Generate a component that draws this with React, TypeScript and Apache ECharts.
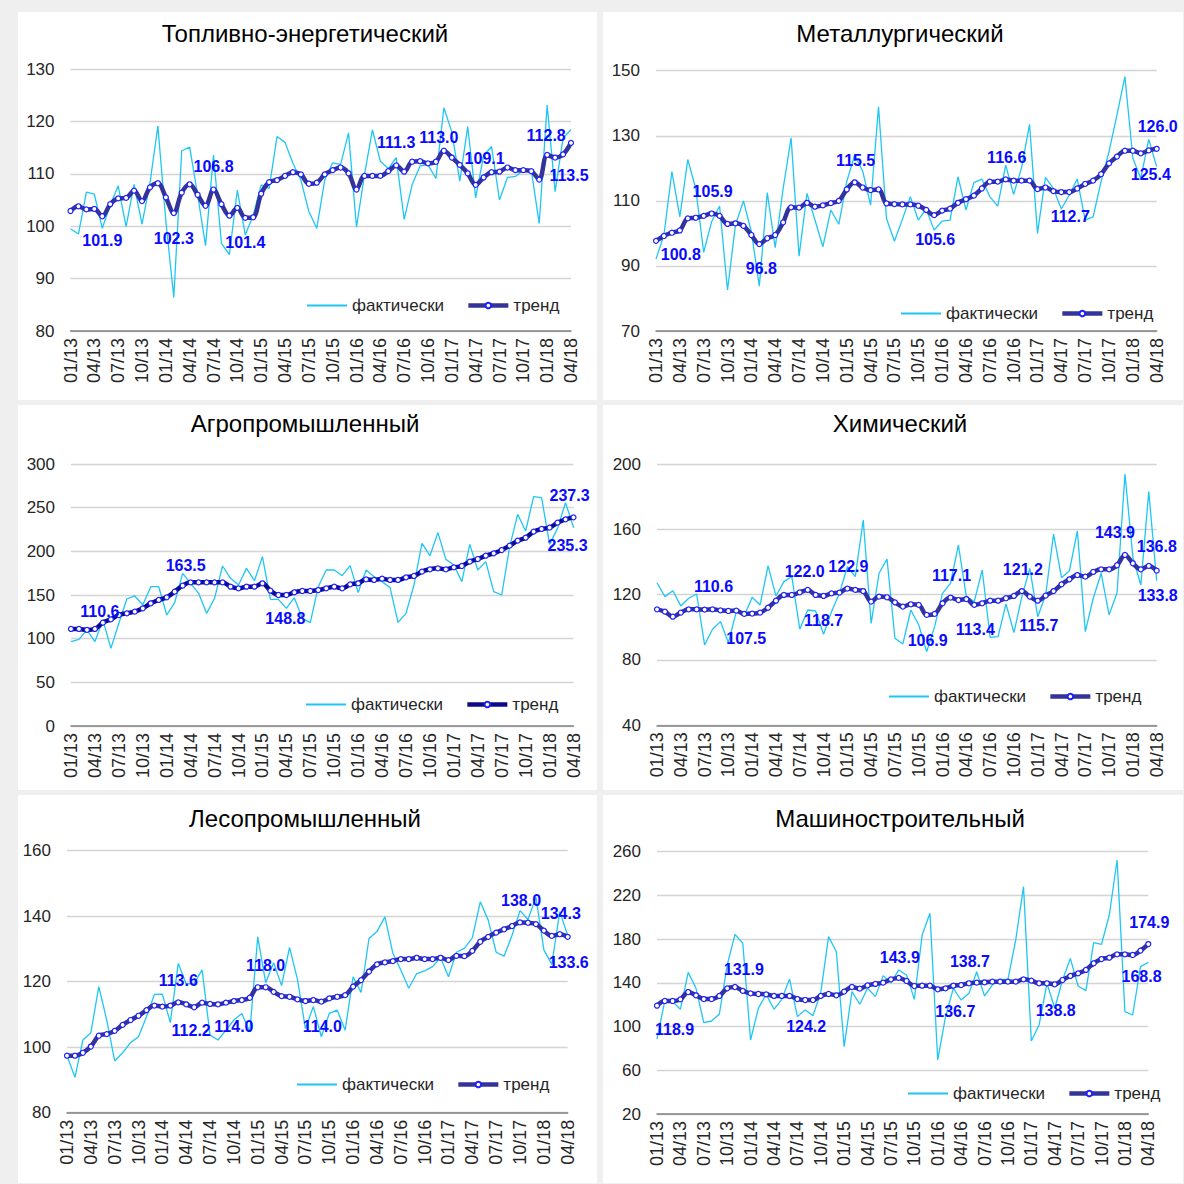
import React, { useEffect, useRef } from 'react';
import * as echarts from 'echarts';

const FONT = '"Liberation Sans", Arial, Helvetica, sans-serif';
const FACT_COLOR = '#1fc6f4';
const LABEL_BLUE = '#0a0aff';

// categories: 01/13 .. 04/18
const monthLabels: string[] = [];
for (let y = 13; y <= 18; y++) {
  for (let m = 1; m <= 12; m++) {
    if (y === 18 && m > 4) break;
    monthLabels.push(`${String(m).padStart(2, '0')}/${y}`);
  }
}

const titles = [
  'Топливно-энергетический',
  'Металлургический',
  'Агропромышленный',
  'Химический',
  'Лесопромышленный',
  'Машиностроительный',
];
const seriesNames = ['фактически', 'тренд'];

// ---------- Топливно-энергетический ----------
const fact1 = [
  99.5, 98.5, 106.5, 106.1, 99.6, 104.0, 107.7, 99.9, 108.0, 100.4, 108.2, 119.1, 101.0, 86.4, 114.4, 115.1,
  106.0, 96.3, 113.6, 96.7, 94.6, 106.9, 98.3, 102.1, 107.9, 107.2, 117.1, 116.0, 112.0, 108.8, 102.8, 99.6,
  108.8, 112.1, 111.8, 117.8, 99.8, 109.8, 118.4, 112.4, 111.0, 113.1, 101.3, 107.9, 111.5, 111.7, 109.1, 122.6,
  118.0, 108.6, 119.0, 105.4, 113.5, 115.2, 105.0, 109.3, 109.5, 110.7, 110.7, 100.5, 123.1, 106.6, 116.8, 118.4,
];
const trend1 = [
  102.9, 103.8, 103.2, 103.3, 101.9, 104.2, 105.3, 105.4, 106.8, 104.8, 107.4, 108.2, 105.5, 102.5, 106.4, 108.0,
  106.0, 103.9, 107.0, 104.2, 102.0, 103.5, 101.6, 101.7, 106.2, 108.4, 108.8, 109.6, 110.3, 109.9, 108.1, 108.3,
  109.9, 110.7, 111.2, 110.1, 107.0, 109.6, 109.6, 109.6, 110.5, 111.6, 110.4, 112.3, 112.4, 112.0, 112.3, 114.4,
  113.1, 111.7, 110.1, 107.9, 109.3, 110.3, 110.4, 111.2, 110.7, 110.7, 110.5, 108.9, 113.6, 113.1, 113.7, 115.9,
];
// [index, text, position, dx, dy]
const trendLabels1 = [
  [4, '101.9', 'bottom', 0, 2], [13, '102.3', 'bottom', 0, 3], [18, '106.8', 'top', 0, -1],
  [22, '101.4', 'bottom', 0, 3], [41, '111.3', 'top', 0, -1], [47, '113.0', 'top', -5, 9],
  [52, '109.1', 'top', 1, 3], [60, '112.8', 'top', -1, 3], [63, '113.5', 'bottom', -2, 11],
];

// ---------- Металлургический ----------
const fact2 = [
  92.1, 99.5, 119.0, 105.1, 122.7, 113.8, 94.2, 103.6, 108.4, 82.6, 102.6, 110.0, 100.5, 83.8, 112.5, 95.6,
  113.8, 129.4, 93.0, 112.3, 104.1, 95.9, 107.2, 102.8, 115.9, 124.1, 119.2, 108.7, 138.9, 104.6, 97.6, 104.3,
  111.3, 104.1, 107.5, 101.0, 103.8, 104.1, 117.4, 107.2, 115.6, 116.7, 111.3, 108.4, 121.0, 112.0, 120.2, 133.5,
  100.0, 117.2, 113.8, 107.5, 111.8, 116.7, 104.1, 105.1, 115.9, 125.1, 136.4, 148.2, 123.1, 116.9, 128.9, 120.5,
];
const trend2 = [
  97.7, 99.2, 100.2, 100.9, 104.6, 104.8, 105.4, 106.1, 105.4, 102.9, 103.1, 102.3, 99.5, 96.7, 98.5, 99.5,
  103.4, 108.0, 107.9, 109.4, 108.2, 108.6, 109.3, 110.0, 113.5, 115.7, 114.1, 113.3, 113.5, 109.2, 109.0, 108.9,
  108.9, 108.5, 107.2, 105.6, 107.0, 107.6, 109.4, 110.5, 111.6, 113.8, 115.9, 115.9, 116.6, 116.2, 116.2, 116.2,
  113.6, 114.1, 113.0, 112.7, 112.7, 113.8, 115.2, 116.2, 118.2, 121.5, 123.6, 125.4, 125.4, 124.6, 125.5, 126.0,
];
const trendLabels2 = [
  [3, '100.8', 'bottom', 1, 2], [7, '105.9', 'top', 1, 0], [13, '96.8', 'bottom', 2, 2],
  [25, '115.5', 'top', 1, 0], [35, '105.6', 'bottom', 1, 2], [44, '116.6', 'top', 1, 0],
  [52, '112.7', 'bottom', 1, 2], [62, '125.4', 'bottom', 2, 2], [63, '126.0', 'top', 1, 0],
];

// ---------- Агропромышленный ----------
const fact3 = [
  96.6, 99.2, 110.0, 96.6, 121.4, 88.9, 117.6, 145.4, 148.9, 138.5, 159.5, 159.5, 127.1, 141.2, 174.8, 163.4,
  151.9, 129.0, 146.2, 183.2, 169.1, 161.5, 180.5, 166.4, 193.9, 145.0, 145.0, 134.7, 146.9, 123.3, 118.3, 159.5,
  178.6, 178.6, 172.1, 183.6, 152.7, 178.6, 171.0, 165.3, 158.4, 118.7, 129.0, 161.5, 209.2, 195.0, 221.4, 190.8,
  184.4, 165.3, 208.0, 178.6, 188.2, 153.8, 150.0, 205.3, 242.4, 223.3, 262.6, 261.5, 208.0, 226.3, 255.7, 227.5,
];
const trend3 = [
  111.1, 111.1, 110.0, 111.1, 118.3, 122.1, 127.1, 129.0, 130.9, 134.7, 140.5, 144.3, 147.3, 153.8, 160.7, 164.5,
  164.5, 164.5, 164.5, 164.5, 159.5, 157.6, 159.5, 159.5, 163.4, 155.0, 150.0, 150.0, 153.1, 154.6, 154.6, 155.7,
  157.6, 159.5, 157.6, 162.2, 163.4, 167.9, 167.2, 168.7, 167.2, 167.2, 170.2, 171.8, 176.7, 179.4, 180.5, 179.4,
  181.7, 183.2, 188.2, 191.2, 195.0, 197.7, 201.5, 206.5, 212.2, 215.6, 222.5, 225.6, 227.1, 232.8, 236.6, 238.9,
];
const trendLabels3 = [
  [3, '110.6', 'top', 5, 4.5], [15, '163.5', 'top', -5, 5], [27, '148.8', 'bottom', -1, 1.5],
  [63, '237.3', 'top', -4, 0],
];
const factLabels3 = [[63, '235.3', 'bottom', -6, -1.5]];

// ---------- Химический ----------
const fact4 = [
  127.3, 118.8, 122.4, 113.1, 117.8, 120.4, 89.2, 98.8, 103.5, 90.6, 109.6, 107.1, 118.4, 113.7, 137.6, 119.2,
  128.0, 131.0, 98.8, 110.6, 110.0, 95.7, 109.6, 120.8, 137.1, 131.0, 165.7, 102.4, 133.1, 141.8, 93.3, 89.8,
  110.6, 101.4, 85.1, 100.4, 120.8, 126.9, 150.4, 118.8, 115.7, 135.1, 93.9, 94.3, 114.3, 96.7, 118.8, 136.1,
  106.5, 119.8, 157.1, 130.4, 134.7, 159.0, 97.3, 117.8, 133.1, 107.6, 121.2, 193.9, 142.7, 125.9, 183.1, 128.6,
];
const trend4 = [
  111.0, 109.6, 106.5, 109.0, 111.0, 111.0, 110.8, 111.0, 110.4, 110.0, 110.2, 108.2, 108.4, 109.0, 112.0, 116.3,
  119.8, 119.8, 121.4, 122.9, 119.8, 119.2, 120.8, 121.2, 123.7, 122.9, 122.2, 115.7, 118.8, 118.4, 115.3, 112.7,
  114.1, 113.7, 107.6, 108.2, 114.7, 118.2, 116.7, 117.3, 113.7, 114.7, 116.3, 116.3, 117.8, 119.2, 122.2, 118.8,
  116.3, 119.4, 122.2, 126.3, 129.4, 132.0, 131.0, 133.9, 135.5, 135.5, 138.0, 144.3, 139.2, 135.5, 137.6, 134.7,
];
const trendLabels4 = [
  [7, '110.6', 'top', 1, -1], [11, '107.5', 'bottom', 2, 2.5], [19, '122.0', 'top', -3, 3.5],
  [21, '118.7', 'bottom', 0, 2], [24, '122.9', 'top', 1, 0], [34, '106.9', 'bottom', 1, 3],
  [37, '117.1', 'top', 1, 0], [40, '113.4', 'bottom', 1, 2.5], [46, '121.2', 'top', 1, 1],
  [48, '115.7', 'bottom', 1, 2.5], [59, '143.9', 'top', -10, 0], [62, '136.8', 'top', 8, 2.5],
  [63, '133.8', 'bottom', 1, 2.5],
];

// ---------- Лесопромышленный ----------
const fact5 = [
  97.4, 90.8, 102.2, 104.4, 118.5, 108.3, 95.8, 98.3, 101.4, 103.2, 109.3, 116.1, 116.2, 107.5, 125.6, 119.3,
  119.5, 123.6, 103.7, 102.2, 105.2, 108.3, 110.3, 104.7, 133.7, 119.7, 125.8, 118.8, 130.5, 120.7, 105.7, 112.4,
  103.2, 110.3, 111.3, 105.2, 121.5, 116.7, 133.2, 135.3, 139.8, 128.7, 123.6, 118.0, 122.5, 123.3, 124.6, 127.4,
  121.5, 129.0, 130.2, 133.4, 144.4, 138.8, 129.0, 127.8, 134.2, 141.7, 139.0, 145.8, 129.7, 125.3, 141.4, 134.2,
];
const trend5 = [
  97.4, 97.4, 98.3, 100.2, 103.5, 104.0, 105.0, 106.8, 108.3, 109.6, 111.3, 112.7, 112.4, 112.7, 113.7, 113.1,
  112.2, 113.6, 113.2, 113.1, 113.6, 114.1, 114.4, 115.1, 118.3, 118.3, 116.9, 115.6, 115.4, 114.6, 114.1, 114.4,
  113.9, 114.9, 115.4, 115.9, 118.5, 120.5, 123.1, 125.3, 125.9, 126.3, 126.9, 126.9, 127.3, 126.9, 126.9, 127.3,
  126.6, 127.9, 127.8, 129.4, 132.2, 133.7, 135.0, 136.0, 137.0, 138.1, 138.0, 137.6, 135.6, 134.0, 134.5, 133.7,
];
const trendLabels5 = [
  [14, '113.6', 'top', 0, 0], [16, '112.2', 'bottom', -3, 1.5], [21, '114.0', 'bottom', 0, 3],
  [25, '118.0', 'top', 0, 0], [32, '114.0', 'bottom', 1, 2.5], [57, '138.0', 'top', 1, 0],
  [62, '134.3', 'top', 1, 1], [63, '133.6', 'bottom', 1, 4],
];

// ---------- Машиностроительный ----------
const fact6 = [
  88.7, 123.4, 122.8, 115.8, 149.6, 135.0, 103.6, 105.1, 111.5, 156.3, 184.4, 176.2, 87.7, 116.7, 129.5, 115.8,
  124.9, 143.5, 109.1, 115.2, 110.0, 131.0, 182.3, 168.5, 81.6, 132.0, 120.4, 135.0, 127.4, 146.6, 140.0, 151.8,
  147.2, 124.9, 183.8, 203.6, 69.5, 109.1, 135.0, 124.3, 130.4, 150.2, 128.0, 138.0, 143.2, 143.2, 179.2, 228.0,
  86.8, 101.5, 139.6, 116.7, 142.6, 162.4, 137.1, 132.9, 176.8, 175.2, 202.1, 252.4, 113.7, 110.6, 154.8, 158.8,
];
const trend6 = [
  119.1, 123.4, 123.4, 124.9, 131.6, 128.6, 125.2, 125.2, 128.0, 135.0, 136.2, 132.6, 130.4, 129.8, 129.5, 128.0,
  128.0, 128.0, 125.2, 124.3, 124.3, 128.0, 129.8, 128.6, 132.0, 136.2, 134.7, 137.7, 139.0, 140.2, 143.2, 144.5,
  141.7, 137.1, 137.4, 137.4, 134.1, 135.0, 137.4, 138.0, 139.6, 140.2, 140.5, 141.1, 141.1, 141.1, 141.1, 143.2,
  142.0, 139.6, 139.6, 138.7, 142.6, 146.3, 148.7, 151.8, 157.9, 161.8, 163.0, 166.1, 166.1, 165.5, 169.5, 175.5,
];
const trendLabels6 = [
  [2, '118.9', 'bottom', 2, 6], [11, '131.9', 'top', 1, 1], [19, '124.2', 'bottom', 1, 4],
  [31, '143.9', 'top', 1, 1.5], [38, '136.7', 'bottom', 2, 4], [40, '138.7', 'top', 1, 0],
  [51, '138.8', 'bottom', 1, 4], [62, '168.8', 'bottom', 1, 4], [63, '174.9', 'top', 1, 1],
];

type Lbl = (string | number)[];
interface Panel {
  fact: number[]; trend: number[]; trendLabels: Lbl[]; factLabels: Lbl[];
  min: number; max: number; interval: number;
  grid: { left: number; top: number; width: number; height: number };
  box: number[]; tx: number; ty: number; lx: number; ly: number; trendColor: string;
}

const panels: Panel[] = [
  { fact: fact1, trend: trend1, trendLabels: trendLabels1, factLabels: [], min: 80, max: 130, interval: 10,
    grid: { left: 70.5, top: 69, width: 500.5, height: 262 }, box: [18, 12, 579, 388], tx: 305, ty: 33, lx: 306, ly: 306, trendColor: '#33339a' },
  { fact: fact2, trend: trend2, trendLabels: trendLabels2, factLabels: [], min: 70, max: 150, interval: 20,
    grid: { left: 656, top: 70.7, width: 500.7, height: 260.3 }, box: [603, 12, 580, 388], tx: 900, ty: 33, lx: 900, ly: 314, trendColor: '#33339a' },
  { fact: fact3, trend: trend3, trendLabels: trendLabels3, factLabels: factLabels3, min: 0, max: 300, interval: 50,
    grid: { left: 71, top: 464, width: 502.5, height: 262 }, box: [18, 405, 579, 385], tx: 305, ty: 423, lx: 305, ly: 705, trendColor: '#0b0b8a' },
  { fact: fact4, trend: trend4, trendLabels: trendLabels4, factLabels: [], min: 40, max: 200, interval: 40,
    grid: { left: 657, top: 464, width: 499.7, height: 261.3 }, box: [603, 405, 580, 385], tx: 900, ty: 423, lx: 888, ly: 697, trendColor: '#33339a' },
  { fact: fact5, trend: trend5, trendLabels: trendLabels5, factLabels: [], min: 80, max: 160, interval: 20,
    grid: { left: 67, top: 850.7, width: 500.7, height: 262 }, box: [18, 795, 579, 388], tx: 305, ty: 818, lx: 296, ly: 1085, trendColor: '#33339a' },
  { fact: fact6, trend: trend6, trendLabels: trendLabels6, factLabels: [], min: 20, max: 260, interval: 40,
    grid: { left: 657, top: 851.7, width: 491.3, height: 262.3 }, box: [603, 795, 580, 388], tx: 900, ty: 818, lx: 907, ly: 1094, trendColor: '#33339a' },
];

const baseLabel = {
  show: false, color: LABEL_BLUE, fontWeight: 'bold', fontSize: 16, fontFamily: FONT, distance: 11,
};

function withLabels(values: number[], lbls: Lbl[], hiddenSymbol: boolean) {
  return values.map((v, i) => {
    const l = lbls.find((x) => x[0] === i);
    if (!l) return v;
    const item: any = {
      value: v,
      label: { show: true, position: l[2], offset: [l[3], l[4]], formatter: String(l[1]) },
    };
    if (hiddenSymbol) { item.symbol = 'circle'; item.symbolSize = 1; }
    return item;
  });
}

function buildOption() {
  const grid: any[] = [];
  const xAxis: any[] = [];
  const yAxis: any[] = [];
  const series: any[] = [];
  const legend: any[] = [];
  const elements: any[] = [];

  panels.forEach((p, k) => {
    grid.push({ ...p.grid, containLabel: false });
    xAxis.push({
      type: 'category', gridIndex: k, data: monthLabels, boundaryGap: false,
      axisLine: { lineStyle: { color: '#808080', width: 1.5 } },
      axisTick: { show: false },
      axisLabel: { interval: 2, rotate: 90, fontSize: 18, color: '#262626', fontFamily: FONT, margin: 7 },
      splitLine: { show: false },
    });
    yAxis.push({
      type: 'value', gridIndex: k, min: p.min, max: p.max, interval: p.interval,
      axisLine: { show: false }, axisTick: { show: false },
      axisLabel: { fontSize: 17, color: '#262626', fontFamily: FONT, margin: 16 },
      splitLine: { lineStyle: { color: '#d4d4d4', width: 1.3 } },
    });
    series.push({
      type: 'line', name: seriesNames[0], xAxisIndex: k, yAxisIndex: k,
      data: withLabels(p.fact, p.factLabels, true),
      symbol: 'none', lineStyle: { color: FACT_COLOR, width: 1.3 }, itemStyle: { color: FACT_COLOR },
      label: baseLabel, z: 2, silent: true,
    });
    series.push({
      type: 'line', name: seriesNames[1], xAxisIndex: k, yAxisIndex: k,
      data: withLabels(p.trend, p.trendLabels, false),
      smooth: 0.35, symbol: 'circle', symbolSize: 5, showAllSymbol: true,
      lineStyle: { color: p.trendColor, width: 4.5 },
      itemStyle: { color: '#ffffff', borderColor: '#1f1fff', borderWidth: 1.2 },
      label: baseLabel, z: 3, silent: true,
    });
    legend.push({
      left: p.lx, top: p.ly - 9, orient: 'horizontal', itemWidth: 40, itemHeight: 7, itemGap: 22, padding: 0,
      textStyle: { fontSize: 17, color: '#262626', fontFamily: FONT },
      data: [
        { name: seriesNames[0], itemStyle: { opacity: 0 } },
        { name: seriesNames[1], lineStyle: { color: p.trendColor, width: 4.5 } },
      ],
      selectedMode: false,
    });
    elements.push({
      type: 'rect', shape: { x: p.box[0], y: p.box[1], width: p.box[2], height: p.box[3] },
      style: { fill: '#ffffff' }, z: -10, silent: true,
    });
    elements.push({
      type: 'text', x: p.tx, y: p.ty, z: 10, silent: true,
      style: {
        text: titles[k], fill: '#000000', font: `24px ${FONT}`,
        textAlign: 'center', textVerticalAlign: 'middle', align: 'center', verticalAlign: 'middle',
      },
    });
  });

  return {
    animation: false,
    backgroundColor: '#efefef',
    textStyle: { fontFamily: FONT },
    grid, xAxis, yAxis, series, legend,
    graphic: { elements },
  };
}

export default function App() {
  const ref = useRef<HTMLDivElement>(null);
  useEffect(() => {
    if (!ref.current) return;
    const chart = echarts.init(ref.current, undefined, { renderer: 'svg' });
    chart.setOption(buildOption() as any);
    return () => chart.dispose();
  }, []);
  return (
    <div
      ref={ref}
      style={{ position: 'fixed', left: 0, top: 0, width: 1184, height: 1184 }}
    />
  );
}
